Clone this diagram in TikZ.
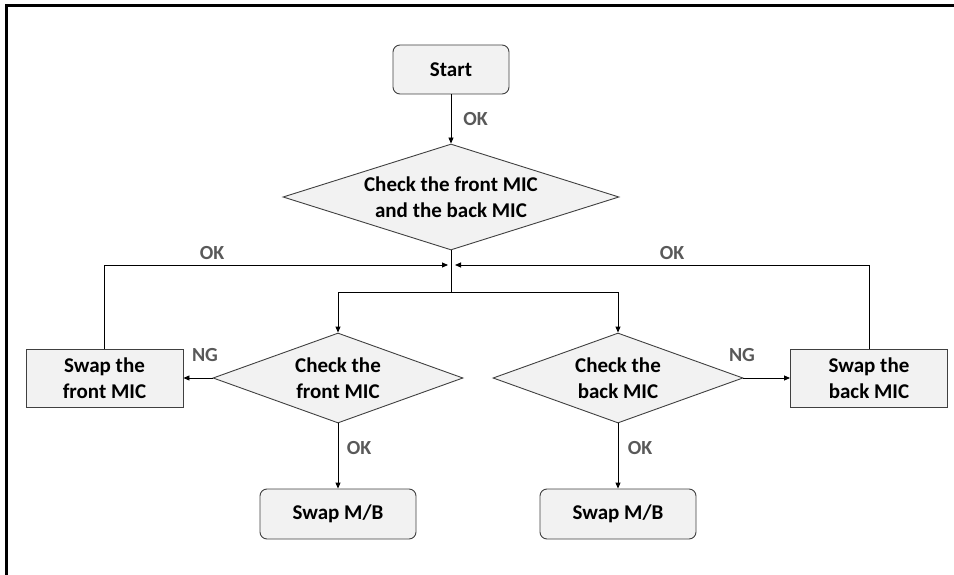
\documentclass[tikz,border=0pt]{standalone}
\usepackage{fontspec}
\setmainfont{Carlito}
\usetikzlibrary{shapes.geometric,arrows.meta}
\definecolor{boxfill}{HTML}{F2F2F2}
\definecolor{boxline}{HTML}{404040}
\definecolor{lblgray}{HTML}{595959}
\begin{document}
\begin{tikzpicture}[x=1pt,y=-1pt,
  txt/.style={font=\bfseries\fontsize{21}{26}\selectfont, align=center, text=black},
  rbox/.style={txt, draw=boxline, fill=boxfill, line width=0.9pt, rounded corners=7pt, inner sep=0pt},
  sbox/.style={txt, draw=boxline, fill=boxfill, line width=0.9pt, inner sep=0pt, minimum width=157pt, minimum height=58pt},
  dmd/.style={txt, shape=diamond, draw=boxline, fill=boxfill, line width=0.9pt, inner sep=0pt},
  lbl/.style={font=\bfseries\fontsize{20}{24}\selectfont, text=lblgray, inner sep=0pt},
  arr/.style={draw=black, line width=0.9pt, -{Triangle[length=6pt,width=5pt]}},
  ln/.style={draw=black, line width=0.9pt}]
\useasboundingbox (0,0) rectangle (954,575);
\draw[line width=3pt] (6.5,575) -- (6.5,5.5) -- (954,5.5);

\node[rbox, minimum width=116pt, minimum height=49pt] (start) at (451,69.5) {Start};
\node[dmd, aspect=3.17, minimum width=336pt, minimum height=106pt] (d0) at (451,197) {Check the front MIC\\and the back MIC};
\node[dmd, aspect=2.78, minimum width=250pt, minimum height=90pt] (dl) at (338,378) {Check the\\front MIC};
\node[dmd, aspect=2.78, minimum width=250pt, minimum height=90pt] (dr) at (618,378) {Check the\\back MIC};
\node[sbox] (sl) at (104.5,378) {Swap the\\front MIC};
\node[sbox] (sr) at (869,378) {Swap the\\back MIC};
\node[rbox, minimum width=156pt, minimum height=50pt] (ml) at (338,514) {Swap M/B};
\node[rbox, minimum width=156pt, minimum height=50pt] (mr) at (618,514) {Swap M/B};

\coordinate (j) at (451,292);
\coordinate (mL) at (448,265);
\coordinate (mR) at (455,265);

\draw[arr] (start) -- (d0);
\draw[ln] (d0.south) -- (j);
\draw[arr] (j) -| (dl.north);
\draw[arr] (j) -| (dr.north);
\draw[arr] (sl.north) |- (mL);
\draw[arr] (sr.north) |- (mR);
\draw[arr] (dl.west) -- (sl.east);
\draw[arr] (dr.east) -- (sr.west);
\draw[arr] (dl.south) -- (ml);
\draw[arr] (dr.south) -- (mr);

\node[lbl] (ok0) at (475.5,119) {OK};
\node[lbl] (okl) at (212,253) {OK};
\node[lbl] (okr) at (672,253) {OK};
\node[lbl] (ngl) at (205,355) {NG};
\node[lbl] (ngr) at (742,355) {NG};
\node[lbl] (okbl) at (359,448) {OK};
\node[lbl] (okbr) at (640,448) {OK};
\end{tikzpicture}
\end{document}
